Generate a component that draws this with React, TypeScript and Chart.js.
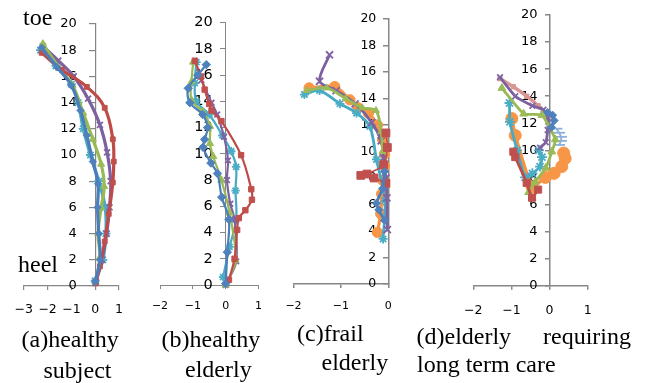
import React, { useEffect, useRef } from 'react';
import { Chart, registerables } from 'chart.js';
Chart.register(...registerables);

// ---------- Panel (a) healthy subject ----------
const aBlueX = [-2.25, -1.6, -1.0, -0.62, -0.35, -0.1, 0.12, 0.1, 0.15, 0.2, 0.0];
const aBlueY = [18.2, 16.7, 15.3, 13.4, 11.5, 9.5, 7.8, 6.0, 4.0, 2.0, 0.3];
const aRedX = [-2.25, -1.4, -0.35, 0.4, 0.74, 0.78, 0.74, 0.57, 0.4, 0.2, 0.02];
const aRedY = [17.8, 16.5, 15.2, 13.6, 11.2, 9.5, 7.9, 5.5, 3.4, 1.5, 0.2];
const aGreenX = [-2.2, -1.5, -0.95, -0.5, -0.1, 0.25, 0.38, 0.25, 0.12, 0.2, 0.02];
const aGreenY = [18.5, 16.6, 15.3, 13.2, 11.2, 9.3, 7.6, 6.0, 4.0, 2.2, 0.3];
const aPurpleX = [-2.2, -1.55, -0.9, -0.3, 0.2, 0.5, 0.65, 0.6, 0.48, 0.28, 0.02];
const aPurpleY = [18.3, 17.2, 16.0, 14.3, 12.3, 10.2, 8.0, 6.0, 4.0, 2.0, 0.3];
const aAquaX = [-2.3, -1.65, -1.0, -0.72, -0.5, -0.2, 0.15, 0.42, 0.45, 0.32, 0.0];
const aAquaY = [18.0, 16.8, 15.4, 14.0, 12.0, 10.0, 8.0, 6.0, 4.0, 2.0, 0.4];

// ---------- Panel (b) healthy elderly ----------
const bBlueX = [-0.59, -0.85, -1.14, -1.09, -0.7, -0.55, -0.64, -0.69, -0.45, -0.25, -0.12, 0.1, 0.05, 0.0];
const bBlueY = [16.8, 16.0, 15.0, 13.9, 13.0, 12.0, 11.1, 10.5, 9.3, 8.5, 6.7, 5.0, 2.5, 0.1];
const bRedX = [-0.94, -0.75, -0.64, -0.5, -0.43, -0.13, 0.47, 0.78, 0.8, 0.6, 0.4, 0.35, 0.27, 0.1];
const bRedY = [17.1, 15.9, 14.9, 13.8, 13.3, 12.5, 9.9, 7.3, 6.5, 5.7, 5.1, 4.2, 2.0, 0.4];
const bGreenX = [-0.99, -1.04, -1.04, -0.69, -0.48, -0.48, -0.38, -0.13, 0.12, 0.3, 0.0];
const bGreenY = [17.0, 15.5, 14.1, 13.2, 12.1, 10.8, 9.8, 8.0, 5.5, 1.9, 0.0];
const bPurpleX = [-0.74, -0.43, -0.26, -0.05, 0.07, 0.04, 0.14, 0.27, 0.32, 0.0];
const bPurpleY = [15.6, 13.9, 13.0, 11.3, 9.5, 8.0, 6.2, 5.0, 1.8, 0.0];
const bAquaX = [-0.89, -0.94, -0.89, -0.5, -0.1, 0.17, 0.32, 0.3, 0.32, 0.12, -0.08];
const bAquaY = [17.0, 15.4, 14.0, 13.0, 11.4, 10.2, 9.0, 7.2, 5.0, 2.9, 0.6];

// ---------- Panel (c) frail elderly ----------
const cBlueX = [-0.08, -0.12, -0.25, -0.2, -0.08];
const cBlueY = [8.5, 7.2, 6.1, 5.6, 4.8];
const cRedX = [-0.05, -0.02, -0.1, -0.45, -0.58, -0.3, -0.05];
const cRedY = [11.4, 10.3, 9.0, 8.3, 8.2, 8.0, 7.6];
const cGreenX = [-1.72, -1.3, -0.9, -0.55, -0.26, -0.15, -0.12];
const cGreenY = [14.6, 14.8, 14.0, 13.3, 13.1, 11.5, 10.0];
const cPurpleX = [-1.24, -1.45, -1.1, -0.7, -0.35, -0.15, -0.1, -0.05, -0.03, -0.02];
const cPurpleY = [17.3, 15.3, 14.6, 13.6, 12.2, 10.8, 9.5, 8.0, 6.5, 4.1];
const cAquaX = [-1.77, -1.45, -1.02, -0.67, -0.39, -0.25, -0.07, -0.11];
const cAquaY = [14.3, 14.6, 13.6, 12.9, 11.9, 9.4, 6.3, 3.4];
const cOrangeX = [-1.67, -1.13, -0.81, -0.64, -0.42, -0.23, -0.12, -0.08, -0.08, -0.11, -0.14, -0.16, -0.23];
const cOrangeY = [14.8, 14.9, 13.9, 13.3, 12.9, 12.0, 10.9, 9.8, 8.9, 7.8, 6.8, 5.3, 3.9];

// ---------- Panel (d) elderly requiring long term care ----------
const dBlueX = [-0.05, 0.08, 0.12, 0.05];
const dBlueY = [12.8, 12.6, 12.2, 11.7];
const dRedX = [-0.95, -0.9, -0.6, -0.46, -0.3];
const dRedY = [9.9, 9.5, 7.6, 6.5, 7.1];
const dGreenX = [-1.25, -0.68, -0.2, 0.15, 0.06, -0.1, -0.38, -0.55];
const dGreenY = [14.6, 12.7, 12.6, 10.8, 9.9, 8.7, 7.65, 6.9];
const dPurpleX = [-1.3, -0.9, -0.45, -0.16, -0.05, -0.05, -0.1, -0.25];
const dPurpleY = [15.4, 14.0, 13.3, 13.0, 12.4, 11.5, 10.6, 10.2];
const dAquaX = [-1.05, -1.04, -0.85, -0.64, -0.45, -0.25, -0.2, -0.28];
const dAquaY = [13.5, 12.1, 10.0, 8.0, 8.3, 8.8, 9.5, 10.0];
const dOrangeX = [-0.99, -0.9, -0.46, -0.11, 0.12, 0.32, 0.41, 0.37];
const dOrangeY = [12.35, 11.1, 7.3, 8.0, 8.3, 8.8, 9.4, 9.8];
const dPinkX = [-1.3, -0.95, -0.6, -0.3, -0.03];
const dPinkY = [15.3, 14.7, 14.0, 13.3, 12.6];
const dLightBlueX = [0.18, 0.25, 0.3, 0.3, 0.25];
const dLightBlueY = [11.6, 11.3, 11.0, 10.7, 10.4];

// axis ranges / ticks
const yMin = 0;
const yMax = 20;
const yStep = 2;
const xStep = 1;

const COL = {
  blue: ['#4A7EBB', '#4F81BD'],
  red: ['#BE4B48', '#C0504D'],
  green: ['#98B954', '#9BBB59'],
  purple: ['#7D60A0', '#8064A2'],
  aqua: ['#46AAC5', '#4BACC6'],
  orange: ['#F69240', '#F79646'],
  pink: ['#D99694', '#D99694'],
  lblue: ['#95B3D7', '#8DB0DA'],
};

const pts = (xs: number[], ys: number[]) => xs.map((x, i) => ({ x, y: ys[i] }));

function ds(xs: number[], ys: number[], col: string[], style: string, r: number, lw: number, tension: number) {
  const stroked = style === 'crossRot' || style === 'star' || style === 'line' || style === 'cross';
  return {
    data: pts(xs, ys),
    showLine: true,
    borderColor: col[0],
    backgroundColor: col[1],
    borderWidth: lw,
    pointStyle: style,
    pointRadius: r,
    pointBackgroundColor: col[1],
    pointBorderColor: col[1],
    pointBorderWidth: stroked ? 1.8 : 1,
    tension,
    clip: false as any,
  };
}

type PanelCfg = {
  l: number; r: number; t: number; b: number;
  xMin: number; xMax: number;
  yFont: number; xFont: number;
  yTL: number; yPad: number; xTL: number; xPad: number;
  axisW: number;
  datasets: any[];
};

const lw = { a: 3.2, b: 2.2, c: 2.8, d: 2.8 };

const panels: PanelCfg[] = [
  {
    l: 23.8, r: 119, t: 24, b: 286, xMin: -3, xMax: 1,
    yFont: 13, xFont: 12.5, yTL: 6, yPad: 12.5, xTL: 4, xPad: 12, axisW: 1.2,
    datasets: [
      ds(aBlueX, aBlueY, COL.blue, 'rectRot', 3.6, lw.a, 0.4),
      ds(aRedX, aRedY, COL.red, 'rect', 3.4, lw.a, 0.4),
      ds(aGreenX, aGreenY, COL.green, 'triangle', 4, lw.a, 0.4),
      ds(aPurpleX, aPurpleY, COL.purple, 'crossRot', 4.2, lw.a, 0.4),
      ds(aAquaX, aAquaY, COL.aqua, 'star', 4.5, lw.a, 0.4),
    ],
  },
  {
    l: 160, r: 258.5, t: 22.7, b: 285, xMin: -2, xMax: 1,
    yFont: 14.5, xFont: 11, yTL: 5, yPad: 8, xTL: 4, xPad: 11, axisW: 1,
    datasets: [
      ds(bBlueX, bBlueY, COL.blue, 'rectRot', 4.2, lw.b, 0.35),
      ds(bRedX, bRedY, COL.red, 'rect', 3.8, lw.b, 0.35),
      ds(bGreenX, bGreenY, COL.green, 'triangle', 4.2, lw.b, 0.35),
      ds(bPurpleX, bPurpleY, COL.purple, 'crossRot', 4, lw.b, 0.35),
      ds(bAquaX, bAquaY, COL.aqua, 'star', 4.2, lw.b, 0.35),
    ],
  },
  {
    l: 293.5, r: 388.3, t: 19, b: 284, xMin: -2, xMax: 0,
    yFont: 12.5, xFont: 11, yTL: 5, yPad: 7, xTL: 4, xPad: 12, axisW: 1.5,
    datasets: [
      ds(cBlueX, cBlueY, COL.blue, 'rectRot', 4, lw.c, 0.3),
      ds(cRedX, cRedY, COL.red, 'rect', 5.5, 1.5, 0.3),
      ds(cGreenX, cGreenY, COL.green, 'triangle', 4, lw.c, 0.3),
      ds(cPurpleX, cPurpleY, COL.purple, 'crossRot', 5, lw.c, 0.3),
      ds(cAquaX, cAquaY, COL.aqua, 'star', 4.5, lw.c, 0.3),
      ds(cOrangeX, cOrangeY, COL.orange, 'circle', 5.2, 3.2, 0.3),
    ],
  },
  {
    l: 473.3, r: 587.7, t: 15, b: 285.7, xMin: -2, xMax: 1,
    yFont: 13, xFont: 12.5, yTL: 4, yPad: 8, xTL: 4, xPad: 14, axisW: 1.5,
    datasets: [
      ds(dBlueX, dBlueY, COL.blue, 'rectRot', 4, lw.d, 0.15),
      ds(dRedX, dRedY, COL.red, 'rect', 5, lw.d, 0.15),
      ds(dGreenX, dGreenY, COL.green, 'triangle', 4.5, lw.d, 0.15),
      ds(dPurpleX, dPurpleY, COL.purple, 'crossRot', 4, lw.d, 0.15),
      ds(dAquaX, dAquaY, COL.aqua, 'star', 5, lw.d, 0.15),
      ds(dOrangeX, dOrangeY, COL.orange, 'circle', 6, 3.4, 0.15),
      ds(dPinkX, dPinkY, COL.pink, 'rect', 3, 3.4, 0.15),
      ds(dLightBlueX, dLightBlueY, COL.lblue, 'line', 6, 2, 0.15),
    ],
  },
];

const AXIS = '#868686';
const TICKFONT = '"DejaVu Sans", sans-serif';
const fmt = (v: any) => {
  const n = Number(v);
  return n < 0 ? '\u2212' + Math.abs(n) : String(n);
};

// places the y tick labels (axis crossing at x = 0) left of the axis by tick length + padding
const yLabelPlacer = {
  id: 'yLabelPlacer',
  beforeDraw(chart: any) {
    const ys = chart.scales.y;
    const xs = chart.scales.x;
    if (!ys || !xs) return;
    const o = ys.options;
    const shift = (o.grid.drawTicks ? o.grid.tickLength : 0) + o.ticks.padding;
    const px = xs.getPixelForValue(0);
    const items = ys.getLabelItems(chart.chartArea);
    items.forEach((it: any) => {
      it.options.translation[0] = px - shift;
      it.options.textAlign = 'right';
    });
  },
};

function Panel({ cfg }: { cfg: PanelCfg }) {
  const ref = useRef<HTMLCanvasElement>(null);
  const M = 32;
  const cl = Math.floor(cfg.l) - M;
  const ct = Math.floor(cfg.t) - M;
  const cw = Math.ceil(cfg.r) + M - cl;
  const axisH = cfg.xTL + 2 * cfg.xPad + cfg.xFont * 1.2;
  const ch = Math.ceil(cfg.b + axisH) + 6 - ct;
  const padding = {
    left: cfg.l - cl,
    right: cl + cw - cfg.r,
    top: cfg.t - ct,
    bottom: ct + ch - cfg.b - axisH,
  };

  useEffect(() => {
    const chart = new Chart(ref.current as HTMLCanvasElement, {
      type: 'scatter',
      data: { datasets: cfg.datasets },
      plugins: [yLabelPlacer],
      options: {
        animation: false,
        responsive: false,
        maintainAspectRatio: false,
        layout: { padding },
        plugins: { legend: { display: false }, tooltip: { enabled: false } },
        scales: {
          x: {
            type: 'linear',
            position: 'bottom',
            min: cfg.xMin,
            max: cfg.xMax,
            grid: { display: true, drawOnChartArea: false, drawTicks: true, tickLength: cfg.xTL, color: AXIS, lineWidth: cfg.axisW },
            border: { display: true, color: AXIS, width: cfg.axisW },
            ticks: {
              stepSize: xStep,
              padding: cfg.xPad,
              color: '#000',
              font: { family: TICKFONT, size: cfg.xFont },
              callback: fmt,
              maxRotation: 0,
              autoSkip: false,
            },
          },
          y: {
            type: 'linear',
            position: { x: 0 } as any,
            min: yMin,
            max: yMax,
            grid: { display: true, drawOnChartArea: false, drawTicks: true, tickLength: cfg.yTL, color: AXIS, lineWidth: cfg.axisW },
            border: { display: true, color: AXIS, width: cfg.axisW },
            ticks: {
              stepSize: yStep,
              padding: cfg.yPad,
              color: '#000',
              font: { family: TICKFONT, size: cfg.yFont },
              callback: fmt,
              autoSkip: false,
            },
          },
        },
      } as any,
    });
    return () => chart.destroy();
  }, []);

  return (
    <canvas
      ref={ref}
      width={cw}
      height={ch}
      style={{ position: 'absolute', left: cl, top: ct, width: cw, height: ch }}
    />
  );
}

const captions = [
  { text: 'toe', left: 23, top: 5 },
  { text: 'heel', left: 18, top: 252 },
  { text: '(a)healthy', left: 21.5, top: 327 },
  { text: 'subject', left: 43.5, top: 358 },
  { text: '(b)healthy', left: 161.5, top: 327 },
  { text: 'elderly', left: 185, top: 357 },
  { text: '(c)frail', left: 297, top: 320.5 },
  { text: 'elderly', left: 321.5, top: 349.5 },
  { text: '(d)elderly', left: 416.5, top: 323.5 },
  { text: 'requiring', left: 543, top: 323.5 },
  { text: 'long term care', left: 417, top: 352 },
];

export default function App() {
  return (
    <div
      style={{
        position: 'absolute',
        left: 0,
        top: 0,
        width: 649,
        height: 383,
        overflow: 'hidden',
        background: '#fff',
      }}
    >
      {panels.map((p, i) => (
        <Panel key={i} cfg={p} />
      ))}
      {captions.map((c, i) => (
        <div
          key={'c' + i}
          style={{
            position: 'absolute',
            left: c.left,
            top: c.top,
            fontFamily: '"Liberation Serif", serif',
            fontSize: 24,
            lineHeight: '24px',
            whiteSpace: 'nowrap',
            color: '#000',
          }}
        >
          {c.text}
        </div>
      ))}
    </div>
  );
}
